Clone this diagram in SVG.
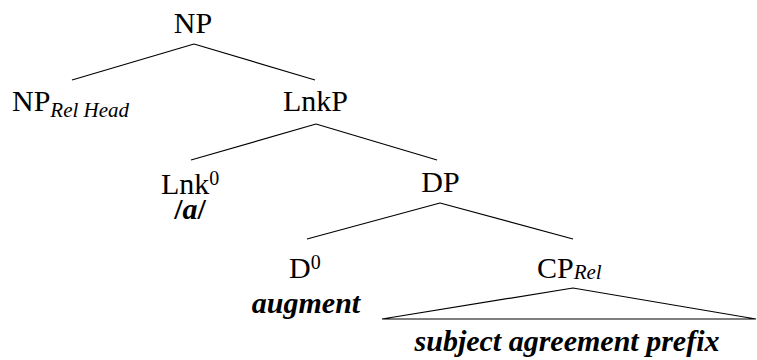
<svg xmlns="http://www.w3.org/2000/svg" width="757" height="360" viewBox="0 0 757 360">
<rect width="757" height="360" fill="#fff"/>
<g id="connectors" stroke="#000" stroke-width="1.2" fill="none">
<line x1="194" y1="44" x2="72" y2="80"/>
<line x1="194" y1="44" x2="315" y2="80"/>
<line x1="316" y1="124" x2="191" y2="160"/>
<line x1="316" y1="124" x2="437" y2="160"/>
<line x1="440" y1="203" x2="307" y2="239"/>
<line x1="440" y1="203" x2="573" y2="239"/>
<polygon points="573,288 382,319 756,319"/>
</g>
<g id="n-np"><text style="font-family:'Liberation Serif',serif !important" font-family="Liberation Serif, serif" font-size="30" x="193" y="33" text-anchor="middle">NP</text></g>
<g id="n-nprel"><text style="font-family:'Liberation Serif',serif !important" font-family="Liberation Serif, serif" font-size="30" x="12" y="111">NP<tspan style="font-family:'Liberation Serif',serif !important" font-style="italic" font-size="21" dy="6">Rel Head</tspan></text></g>
<g id="n-lnkp"><text style="font-family:'Liberation Serif',serif !important" font-family="Liberation Serif, serif" font-size="30" x="315.5" y="111" text-anchor="middle">LnkP</text></g>
<g id="n-lnk0"><text style="font-family:'Liberation Serif',serif !important" font-family="Liberation Serif, serif" font-size="30" x="161" y="194">Lnk<tspan style="font-family:'Liberation Serif',serif !important" font-size="20" dy="-9">0</tspan></text>
<text style="font-family:'Liberation Serif',serif !important" font-family="Liberation Serif, serif" font-size="30" font-weight="bold" x="190" y="219" text-anchor="middle">/<tspan style="font-family:'Liberation Serif',serif !important" font-style="italic">a</tspan>/</text></g>
<g id="n-dp"><text style="font-family:'Liberation Serif',serif !important" font-family="Liberation Serif, serif" font-size="30" x="440.5" y="192" text-anchor="middle">DP</text></g>
<g id="n-d0"><text style="font-family:'Liberation Serif',serif !important" font-family="Liberation Serif, serif" font-size="30" x="289" y="278">D<tspan style="font-family:'Liberation Serif',serif !important" font-size="20" dy="-9">0</tspan></text>
<text style="font-family:'Liberation Serif',serif !important" font-family="Liberation Serif, serif" font-size="30" font-weight="bold" font-style="italic" x="306" y="313" text-anchor="middle">augment</text></g>
<g id="n-cprel"><text style="font-family:'Liberation Serif',serif !important" font-family="Liberation Serif, serif" font-size="30" x="537" y="278">CP<tspan style="font-family:'Liberation Serif',serif !important" font-style="italic" font-size="21" dy="1">Rel</tspan></text>
<text style="font-family:'Liberation Serif',serif !important" font-family="Liberation Serif, serif" font-size="30" font-weight="bold" font-style="italic" x="567" y="351" text-anchor="middle">subject agreement prefix</text></g>
</svg>
